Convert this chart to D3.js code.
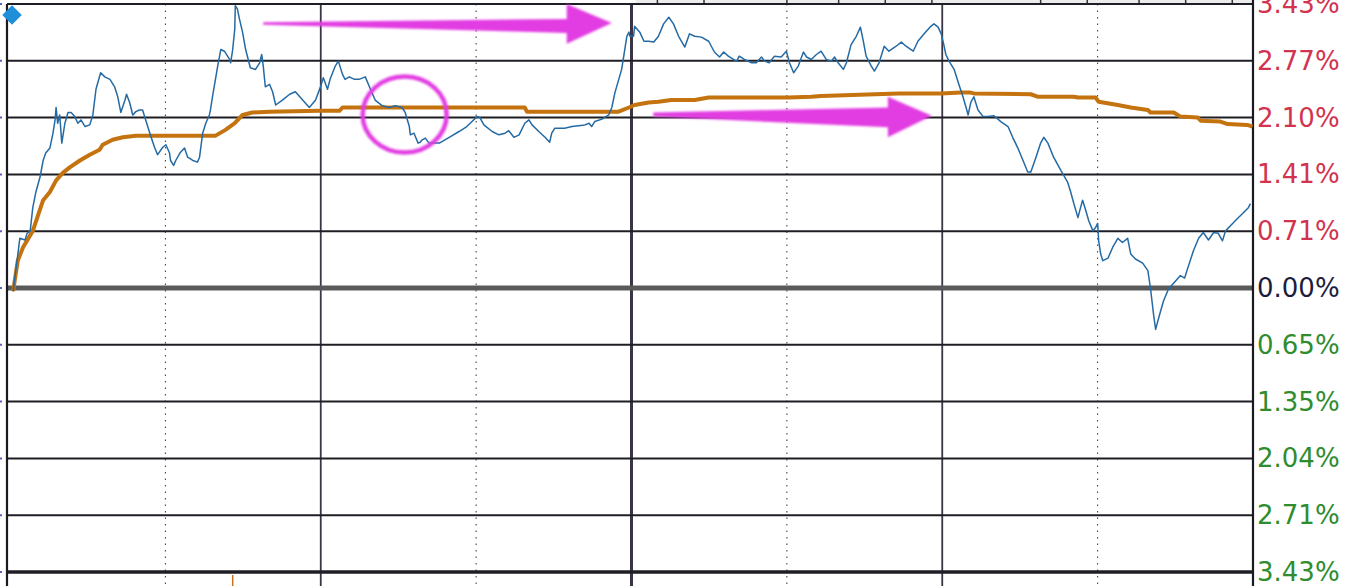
<!DOCTYPE html>
<html><head><meta charset="utf-8">
<script src="https://cdn.jsdelivr.net/npm/d3@7"></script>
<style>html,body{margin:0;padding:0;background:#fff;overflow:hidden}</style>
</head><body>
<svg id="c" width="1352" height="586"></svg>
<script>
// ---- data (minutes since open, % change) ----
const priceSeries = [
[0.6,-0.04],[1.3,0.30],[1.9,0.60],[2.9,0.58],[3.3,0.66],[3.9,0.69],[4.4,0.97],[5.0,1.16],[5.8,1.34],[6.4,1.54],
[6.9,1.63],[7.7,1.69],[8.3,1.87],[8.7,2.03],[8.9,2.18],[9.2,1.99],[9.6,2.09],[10.0,1.75],[10.6,1.99],[11.2,2.12],
[11.8,2.12],[12.5,2.07],[13.1,1.99],[13.7,2.03],[14.5,1.95],[15.4,1.97],[16.0,2.09],[16.6,2.40],[17.5,2.60],[18.3,2.55],
[19.3,2.52],[20.2,2.43],[20.8,2.31],[21.4,2.12],[22.2,2.27],[22.5,2.34],[23.1,2.24],[23.7,2.09],[24.3,2.13],[25.0,2.15],
[25.6,2.15],[26.2,2.03],[27.0,1.87],[27.9,1.70],[28.5,1.61],[29.5,1.70],[30.1,1.73],[30.8,1.63],[31.0,1.54],[31.6,1.48],
[32.0,1.54],[32.8,1.63],[33.7,1.69],[34.3,1.58],[35.3,1.54],[36.2,1.52],[36.6,1.58],[37.2,1.87],[37.8,1.99],[38.5,2.09],
[38.7,2.15],[39.1,2.31],[40.1,2.68],[40.7,2.88],[41.4,2.86],[42.4,2.76],[42.6,2.72],[43.0,2.88],[43.4,3.13],[43.5,3.41],
[43.9,3.37],[44.3,3.25],[44.9,3.09],[45.5,2.88],[46.4,2.66],[47.4,2.64],[48.2,2.72],[48.6,2.82],[48.9,2.68],[49.3,2.43],
[50.1,2.46],[50.7,2.37],[51.3,2.21],[52.6,2.27],[54.0,2.34],[55.1,2.37],[56.5,2.27],[57.8,2.18],[59.0,2.27],[59.9,2.42],
[60.5,2.54],[61.3,2.40],[61.8,2.52],[62.8,2.68],[63.4,2.74],[64.2,2.58],[64.7,2.52],[65.5,2.55],[66.5,2.52],[67.4,2.52],
[68.6,2.55],[69.6,2.40],[70.5,2.27],[71.9,2.20],[73.2,2.18],[74.4,2.20],[75.7,2.18],[76.3,2.12],[77.1,1.95],[77.3,1.85],
[78.0,1.87],[78.8,1.75],[79.2,1.76],[79.6,1.79],[80.2,1.81],[80.9,1.75],[82.9,1.75],[84.8,1.82],[86.7,1.89],[88.2,1.95],
[89.2,2.01],[90.2,2.07],[90.7,2.06],[91.5,1.97],[93.1,1.89],[94.4,1.85],[95.6,1.87],[96.3,1.90],[97.3,1.82],[98.3,1.85],
[99.4,1.99],[100.2,2.03],[100.8,1.97],[102.1,1.89],[103.3,1.82],[104.2,1.76],[104.6,1.87],[105.2,1.93],[106.0,1.93],[107.1,1.93],
[108.5,1.95],[109.8,1.96],[111.0,1.97],[111.8,1.99],[112.3,1.95],[112.9,2.01],[114.3,2.04],[115.6,2.09],[116.2,2.18],[116.8,2.36],
[118.1,2.64],[118.7,2.88],[119.1,3.04],[119.5,3.09],[119.7,3.04],[120.4,3.04],[120.6,3.16],[121.6,3.09],[122.4,2.98],[123.3,2.98],
[124.3,2.97],[125.2,3.04],[126.2,3.19],[127.2,3.27],[128.1,3.19],[129.1,3.04],[130.3,2.91],[131.2,3.07],[132.2,3.04],[133.5,3.03],
[134.9,2.98],[136.0,2.85],[137.0,2.79],[137.8,2.85],[138.7,2.80],[139.7,2.76],[140.3,2.74],[140.8,2.80],[141.8,2.76],[143.2,2.72],
[144.1,2.72],[145.1,2.79],[145.7,2.74],[146.6,2.72],[147.6,2.80],[148.9,2.79],[149.9,2.86],[150.5,2.72],[151.3,2.60],[152.2,2.68],
[153.2,2.85],[153.8,2.79],[154.7,2.76],[155.7,2.82],[156.6,2.86],[157.6,2.76],[158.6,2.74],[159.2,2.79],[159.9,2.72],[160.9,2.64],
[161.5,2.72],[162.4,2.94],[163.4,3.04],[164.2,3.15],[164.7,3.00],[165.3,2.80],[166.3,2.68],[166.9,2.62],[167.8,2.72],[168.8,2.92],
[169.7,2.86],[171.1,2.92],[172.1,2.97],[173.0,2.92],[174.4,2.86],[175.3,2.98],[176.5,3.07],[177.8,3.16],[178.4,3.19],[179.2,3.15],
[179.8,3.07],[180.3,2.94],[180.7,2.82],[181.3,2.74],[182.3,2.64],[183.2,2.46],[184.0,2.31],[184.6,2.18],[185.0,2.09],[185.5,2.24],
[186.1,2.31],[186.9,2.15],[187.9,2.07],[188.8,2.07],[190.0,2.08],[191.3,2.01],[192.7,1.95],[193.6,1.82],[194.6,1.69],[195.6,1.54],
[196.5,1.40],[197.1,1.40],[198.1,1.58],[199.0,1.75],[199.6,1.82],[200.4,1.75],[201.5,1.58],[202.9,1.42],[204.2,1.28],[204.8,1.16],
[205.4,1.02],[206.2,0.85],[206.7,0.97],[207.1,1.06],[207.7,0.94],[208.3,0.81],[209.1,0.69],[209.6,0.73],[210.0,0.78],[210.2,0.57],
[210.6,0.41],[211.0,0.33],[212.0,0.36],[212.9,0.49],[213.9,0.60],[214.8,0.55],[215.8,0.60],[216.4,0.41],[217.3,0.35],[218.7,0.30],
[219.7,0.21],[220.2,0.00],[220.8,-0.32],[221.2,-0.50],[221.8,-0.36],[222.7,-0.16],[223.7,-0.01],[224.7,0.06],[226.0,0.15],[226.8,0.12],
[227.4,0.24],[228.5,0.45],[229.5,0.60],[230.4,0.67],[231.4,0.58],[232.4,0.67],[233.3,0.66],[234.1,0.57],[234.7,0.69],[235.6,0.75],
[237.0,0.84],[238.0,0.90],[239.1,0.97],[239.5,1.02]
];
const avgSeries = [
[0.6,-0.04],[1.5,0.33],[2.5,0.49],[4.4,0.69],[6.4,1.06],[7.7,1.16],[8.9,1.30],[10.2,1.39],[11.6,1.46],[13.5,1.54],
[15.4,1.61],[17.3,1.67],[17.9,1.73],[19.8,1.79],[21.8,1.82],[24.3,1.84],[37.2,1.84],[39.7,1.84],[41.6,1.91],[43.4,1.99],
[44.9,2.09],[46.8,2.12],[50.1,2.13],[59.7,2.14],[63.6,2.14],[64.2,2.18],[99.4,2.18],[99.8,2.13],[115.6,2.13],[117.5,2.13],
[119.5,2.18],[120.6,2.21],[123.3,2.24],[125.2,2.25],[127.7,2.27],[132.2,2.27],[134.9,2.30],[150.3,2.30],[154.7,2.31],[156.6,2.32],
[171.5,2.35],[179.8,2.35],[183.6,2.36],[185.5,2.36],[186.1,2.35],[197.1,2.34],[198.4,2.31],[205.4,2.31],[206.2,2.30],[209.6,2.30],
[210.2,2.25],[213.9,2.21],[216.4,2.18],[219.7,2.15],[220.2,2.12],[224.7,2.12],[226.0,2.07],[229.3,2.06],[229.9,2.02],[233.7,2.01],
[235.1,1.98],[238.9,1.97],[239.9,1.95]
];
const maxPct = 3.43;
const gridSteps = [5,4,3,2,1,0,-1,-2,-3,-4,-5];
const tickLabels = ["3.43%","2.77%","2.10%","1.41%","0.71%","0.00%","0.65%","1.35%","2.04%","2.71%","3.43%"];
const hourMarks = [60,120,180];
const halfHourMarks = [30,90,150,210];
const headerDividers = [125,134,150,160,169,178,199,208,218,227,236];

// ---- scales ----
const svg = d3.select("#c");
const x = d3.scaleLinear().domain([0,240]).range([10,1253]);
const y = d3.scaleLinear().domain([-maxPct,maxPct]).range([572,4]);
const L = 7, R = 1253;

// header strip
svg.append("rect").attr("x",x(120)+4).attr("y",0).attr("width",R-x(120)-4).attr("height",5).attr("fill","#ececec");
svg.append("g").selectAll("line").data(headerDividers).join("line")
  .attr("x1",d=>x(d)).attr("x2",d=>x(d)).attr("y1",0).attr("y2",5)
  .attr("stroke","#333").attr("stroke-width",1.5);

// vertical grid
svg.append("g").selectAll("line").data(halfHourMarks).join("line")
  .attr("x1",d=>x(d)).attr("x2",d=>x(d)).attr("y1",4).attr("y2",586)
  .attr("stroke","#333").attr("stroke-width",1).attr("stroke-dasharray","1.5,5");
svg.append("g").selectAll("line").data(hourMarks).join("line")
  .attr("x1",d=>x(d)).attr("x2",d=>x(d)).attr("y1",4).attr("y2",586)
  .attr("stroke","#3a3444").attr("stroke-width",d=>d===120?3:1.8);

// horizontal grid
const levels = gridSteps.map(s=>s*maxPct/5);
svg.append("g").selectAll("line").data(levels).join("line")
  .attr("x1",L).attr("x2",R).attr("y1",d=>y(d)).attr("y2",d=>y(d))
  .attr("stroke",(d,i)=>i===5?"#5a5a5a":"#1e1e24")
  .attr("stroke-width",(d,i)=>i===5?5:(i===10?3.5:2));

// borders
svg.append("line").attr("x1",L).attr("x2",L).attr("y1",4).attr("y2",586).attr("stroke","#1a1a22").attr("stroke-width",2.2);
svg.append("line").attr("x1",R).attr("x2",R).attr("y1",0).attr("y2",586).attr("stroke","#1a1a22").attr("stroke-width",2.2);

// left cut-off axis ticks
svg.append("g").selectAll("line").data(levels).join("line")
  .attr("x1",0).attr("x2",2).attr("y1",d=>y(d)).attr("y2",d=>y(d))
  .attr("stroke","#5a60c0").attr("stroke-width",2);

// bottom small orange tick
svg.append("line").attr("x1",x(43)).attr("x2",x(43)).attr("y1",575).attr("y2",586)
  .attr("stroke","#c8701a").attr("stroke-width",1.5);

// lines
const line = d3.line().x(d=>x(d[0])).y(d=>y(d[1]));
svg.append("path").datum(avgSeries).attr("d",line).attr("fill","none")
  .attr("stroke","#c4730f").attr("stroke-width",4).attr("stroke-linejoin","round");
svg.append("path").datum(priceSeries).attr("d",line).attr("fill","none")
  .attr("stroke","#246aa4").attr("stroke-width",1.5).attr("stroke-linejoin","round");

// diamond marker
svg.append("path").attr("d",d3.symbol(d3.symbolSquare,190)())
  .attr("transform",`translate(12,15) rotate(45)`).attr("fill","#1f8fda");

// labels
svg.append("g").selectAll("text").data(levels).join("text")
  .attr("x",1257).attr("y",d=>y(d)).attr("dominant-baseline","central")
  .attr("font-family","DejaVu Sans").attr("font-size",26)
  .attr("fill",(d,i)=>i<5?"#d2334f":(i===5?"#1c1c3c":"#2f8c2f"))
  .text((d,i)=>tickLabels[i]);

// annotations (magenta)
const defs = svg.append("defs");
defs.append("filter").attr("id","soft").append("feGaussianBlur").attr("stdDeviation",0.8);
const mag = "#e23ee2";
function arrow(t0,p0a,p0b,t1,p1a,p1b,hTop,hBot,tip,tipP){
  const pts = [[x(t0),y(p0a)],[x(t1),y(p1a)],[x(t1),y(hTop)],[x(tip),y(tipP)],[x(t1),y(hBot)],[x(t1),y(p1b)],[x(t0),y(p0b)]];
  svg.append("path").attr("d","M"+pts.map(p=>p.join(",")).join("L")+"Z")
    .attr("fill",mag).attr("filter","url(#soft)");
}
arrow(48.9,3.21,3.18, 107.5,3.25,3.08, 3.43,2.95, 116.2,3.20);
arrow(124.2,2.12,2.07, 169.5,2.18,1.94, 2.31,1.82, 178.0,2.08);
svg.append("ellipse").attr("cx",x(76.2)).attr("cy",y(2.095)).attr("rx",42).attr("ry",38)
  .attr("fill","none").attr("stroke",mag).attr("stroke-width",4.5).attr("filter","url(#soft)");
</script>
</body></html>
